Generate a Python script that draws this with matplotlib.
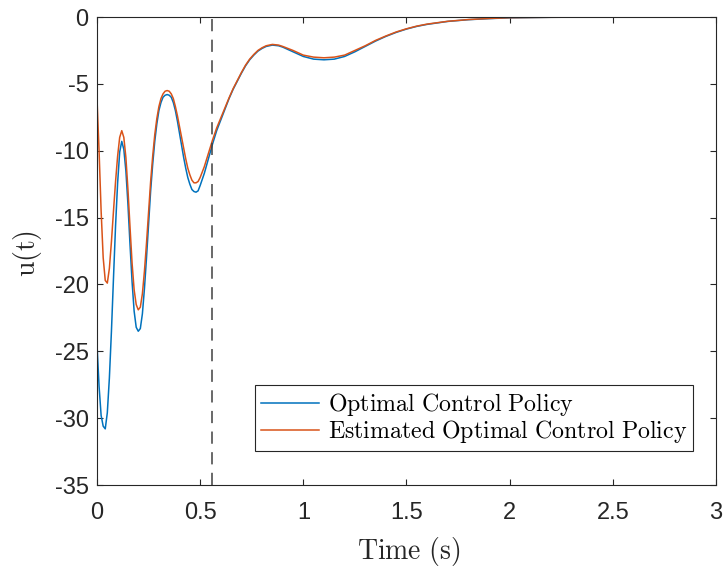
import matplotlib
matplotlib.use('Agg')
import matplotlib.pyplot as plt

# time samples (s)
t = [0.0, 0.01, 0.02, 0.03, 0.04, 0.05, 0.06, 0.07, 0.08, 0.09,
     0.10, 0.11, 0.12, 0.13, 0.14, 0.15, 0.16, 0.17, 0.18, 0.19,
     0.20, 0.21, 0.22, 0.23, 0.24, 0.25, 0.26, 0.27, 0.28, 0.29,
     0.30, 0.31, 0.32, 0.33, 0.34, 0.35, 0.36, 0.37, 0.38, 0.39,
     0.40, 0.41, 0.42, 0.43, 0.44, 0.45, 0.46, 0.47, 0.48, 0.49,
     0.50, 0.52, 0.54, 0.56, 0.58, 0.60, 0.62, 0.64, 0.66, 0.68,
     0.70, 0.72, 0.74, 0.76, 0.78, 0.80, 0.82, 0.85, 0.88, 0.90,
     0.95, 1.00, 1.05, 1.10, 1.15, 1.20, 1.25, 1.30, 1.35, 1.40,
     1.45, 1.50, 1.55, 1.60, 1.70, 1.80, 1.90, 2.00, 2.20, 2.50, 3.00]

# optimal control policy
u_opt = [-24.5, -27.6, -29.8, -30.6, -30.8, -29.6, -27.0, -23.5, -19.5, -15.6,
         -12.4, -10.1, -9.3, -9.9, -11.5, -14.0, -17.0, -19.8, -22.0, -23.2,
         -23.5, -23.3, -22.2, -20.3, -18.0, -15.5, -13.0, -11.0, -9.3, -8.0,
         -7.0, -6.4, -6.0, -5.85, -5.8, -5.85, -6.0, -6.4, -7.0, -7.8,
         -8.7, -9.6, -10.5, -11.3, -12.0, -12.5, -12.9, -13.05, -13.1, -13.0,
         -12.6, -11.7, -10.6, -9.5, -8.5, -7.7, -6.9, -6.1, -5.4, -4.8,
         -4.2, -3.65, -3.2, -2.85, -2.55, -2.35, -2.2, -2.1, -2.15, -2.25,
         -2.6, -2.95, -3.15, -3.2, -3.15, -2.95, -2.6, -2.2, -1.8, -1.45,
         -1.15, -0.9, -0.7, -0.55, -0.33, -0.2, -0.12, -0.06, -0.02, 0.0, 0.0]

# estimated optimal control policy
u_est = [-6.1, -10.0, -14.5, -18.0, -19.7, -19.9, -18.8, -16.8, -14.5, -12.3,
         -10.4, -9.0, -8.5, -9.0, -10.5, -12.9, -15.7, -18.4, -20.4, -21.5,
         -21.9, -21.7, -20.7, -19.0, -16.9, -14.6, -12.3, -10.4, -8.8, -7.6,
         -6.7, -6.1, -5.75, -5.55, -5.5, -5.55, -5.75, -6.1, -6.7, -7.4,
         -8.2, -9.0, -9.8, -10.6, -11.3, -11.8, -12.2, -12.4, -12.4, -12.3,
         -12.0, -11.2, -10.2, -9.2, -8.3, -7.55, -6.8, -6.05, -5.35, -4.75,
         -4.15, -3.6, -3.15, -2.8, -2.5, -2.3, -2.15, -2.05, -2.1, -2.2,
         -2.5, -2.85, -3.0, -3.05, -3.0, -2.85, -2.5, -2.15, -1.75, -1.42,
         -1.12, -0.88, -0.68, -0.53, -0.32, -0.19, -0.11, -0.05, -0.02, 0.0, 0.0]

t_switch = 0.555

plt.rcParams['mathtext.fontset'] = 'cm'
plt.rcParams['font.family'] = ['Liberation Sans', 'DejaVu Sans']
axcol = '#262626'

fig = plt.figure(figsize=(7.26, 5.69), dpi=100)
ax = fig.add_axes([0.1336, 0.1476, 0.8526, 0.8225])

ax.plot(t, u_opt, color='#0072BD', lw=1.1, label=r'$\mathrm{Optimal\ Control\ Policy}$')
ax.plot(t, u_est, color='#D95319', lw=1.1, label=r'$\mathrm{Estimated\ Optimal\ Control\ Policy}$')
ax.axvline(t_switch, color='#404040', lw=1.1, linestyle=(0, (8, 5.5)))

ax.set_xlim(0, 3)
ax.set_ylim(-35, 0)
ax.set_xticks([0, 0.5, 1, 1.5, 2, 2.5, 3])
ax.set_xticklabels(['0', '0.5', '1', '1.5', '2', '2.5', '3'])
ax.set_yticks(range(-35, 1, 5))
ax.set_yticklabels([str(v) for v in range(-35, 1, 5)])
ax.tick_params(direction='in', top=True, right=True, length=4.5, width=0.8,
               colors=axcol, labelsize=17)
ax.tick_params(axis='x', pad=12)
ax.tick_params(axis='y', pad=6)
for s in ax.spines.values():
    s.set_color(axcol)
    s.set_linewidth(0.8)

# axis labels (LaTeX-like)
fig.text(409 / 726, 1 - 551 / 569, r'$\mathrm{Time\ (s)}$', fontsize=20,
         color=axcol, ha='center', va='center')
fig.text(27 / 726, 1 - 253 / 569, r'$\mathrm{u(t)}$', fontsize=20,
         color=axcol, ha='center', va='center', rotation=90)

leg = ax.legend(loc='upper left', bbox_to_anchor=(0.2553, 0.2137), fontsize=17.2,
                frameon=True, fancybox=False, edgecolor=axcol, framealpha=1,
                handlelength=2.4, handletextpad=0.38, borderpad=0.26,
                labelspacing=0.0, borderaxespad=0)
leg.get_frame().set_linewidth(0.8)

plt.savefig('out.png', dpi=100)
plt.close()
